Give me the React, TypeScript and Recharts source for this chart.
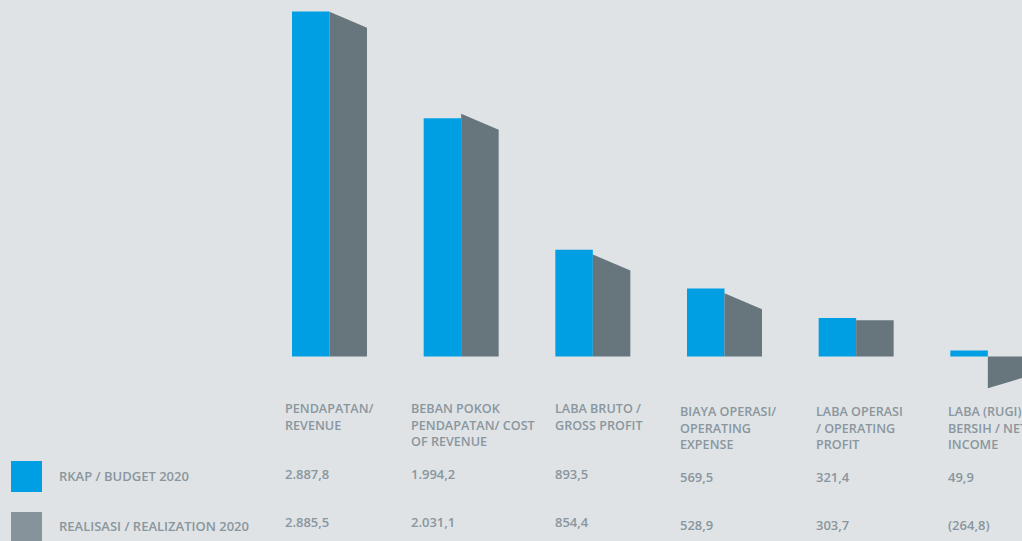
import React from "react";
import { BarChart, Bar, XAxis, YAxis } from "recharts";

const categories = [
  ["PENDAPATAN/", "REVENUE"],
  ["BEBAN POKOK", "PENDAPATAN/ COST", "OF REVENUE"],
  ["LABA BRUTO /", "GROSS PROFIT"],
  ["BIAYA OPERASI/", "OPERATING", "EXPENSE"],
  ["LABA OPERASI", "/ OPERATING", "PROFIT"],
  ["LABA (RUGI)", "BERSIH / NET", "INCOME"],
];
const budget2020 = [2887.8, 1994.2, 893.5, 569.5, 321.4, 49.9];
const realization2020 = [2885.5, 2031.1, 854.4, 528.9, 303.7, -264.8];
const seriesLabels = ["RKAP / BUDGET 2020", "REALISASI / REALIZATION 2020"];

const BLUE = "#009fe3";
const GREY = "#67757c";
const GREY_SWATCH = "#87939a";
const TEXT = "#8a969d";
const BG = "#dfe3e6";

// text column layout of the table under the bars
const colX = [285, 411, 555, 680, 816, 948];
const colDy = [0, 0, 0, 3, 3, 3];

const data = categories.map((c, i) => ({
  name: c.join(" "),
  budget: budget2020[i],
  realization: realization2020[i],
}));

// 1.234,5 style, negatives in brackets
const fmt = (v: number) => {
  const [int, dec] = Math.abs(v).toFixed(1).split(".");
  const s = int.replace(/\B(?=(\d{3})+(?!\d))/g, ".") + "," + dec;
  return v < 0 ? `(${s})` : s;
};

// grey bar with a slanted top (flat for operating profit)
const SlantBar = (props: any) => {
  const { x, y, width, height, index, payload } = props;
  if (x == null || y == null) return null;
  const top = Math.min(y, y + height);
  const bottom = Math.max(y, y + height);
  if (payload.realization < 0) {
    const pts = `${x},${top} ${x + width},${top} ${x + width},${bottom - 11} ${x},${bottom}`;
    return <polygon points={pts} fill={GREY} />;
  }
  const slant = index === 4 ? 0 : 16;
  const pts = `${x},${top} ${x + width},${top + slant} ${x + width},${bottom} ${x},${bottom}`;
  return <polygon points={pts} fill={GREY} />;
};

const textStyle: React.CSSProperties = {
  position: "absolute",
  fontFamily: "'Open Sans', sans-serif",
  fontWeight: 600,
  fontSize: 13,
  lineHeight: "16.6px",
  color: TEXT,
  whiteSpace: "nowrap",
};

export default function App() {
  return (
    <div
      style={{
        position: "fixed",
        left: 0,
        top: 0,
        width: 1022,
        height: 541,
        background: BG,
        overflow: "hidden",
      }}
    >
      <div style={{ position: "absolute", left: 263.7, top: 0 }}>
        <BarChart
          width={790}
          height={400}
          data={data}
          margin={{ top: 0, right: 0, bottom: 0, left: 0 }}
          barGap={0}
          barSize={37.5}
        >
          <XAxis dataKey="name" hide />
          <YAxis hide type="number" domain={[-364.1, 2984.1]} allowDataOverflow />
          <Bar dataKey="budget" fill={BLUE} isAnimationActive={false} />
          <Bar dataKey="realization" fill={GREY} shape={SlantBar} isAnimationActive={false} />
        </BarChart>
      </div>

      {categories.map((lines, i) => (
        <div key={"c" + i} style={{ ...textStyle, fontSize: 12.6, left: colX[i], top: 401 + colDy[i] }}>
          {lines.map((l, j) => (
            <div key={j}>{l}</div>
          ))}
        </div>
      ))}

      {budget2020.map((v, i) => (
        <div key={"b" + i} style={{ ...textStyle, left: colX[i], top: 466 + colDy[i] }}>
          {fmt(v)}
        </div>
      ))}
      {realization2020.map((v, i) => (
        <div key={"r" + i} style={{ ...textStyle, left: colX[i], top: 514.3 + colDy[i] }}>
          {fmt(v)}
        </div>
      ))}

      <div style={{ position: "absolute", left: 11, top: 461, width: 31, height: 31, background: BLUE }} />
      <div style={{ position: "absolute", left: 11, top: 512, width: 31, height: 31, background: GREY_SWATCH }} />
      <div style={{ ...textStyle, left: 59, top: 468 }}>{seriesLabels[0]}</div>
      <div style={{ ...textStyle, left: 59, top: 517.7 }}>{seriesLabels[1]}</div>
    </div>
  );
}
